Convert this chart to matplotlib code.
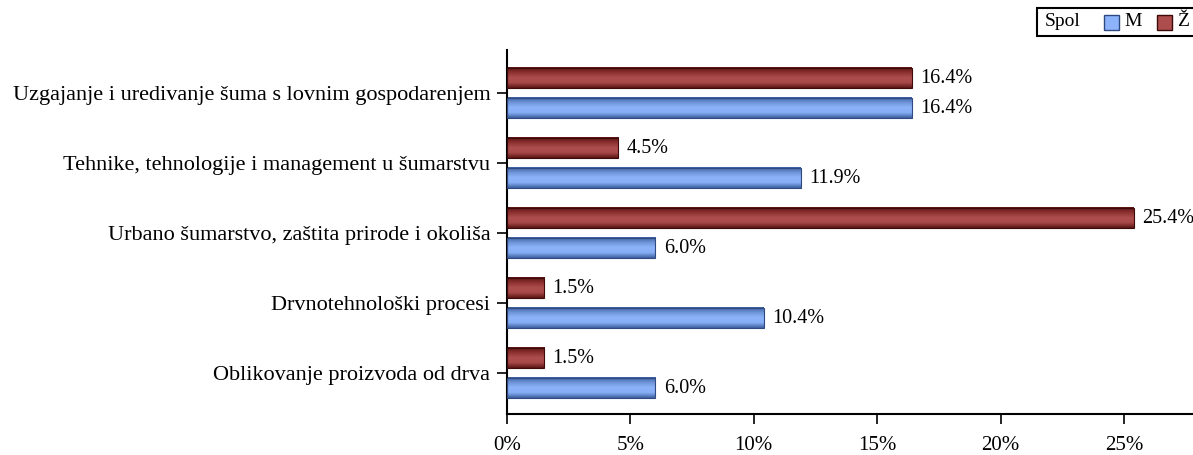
import numpy as np
import matplotlib
matplotlib.use("Agg")
import matplotlib.pyplot as plt
from matplotlib.colors import LinearSegmentedColormap
from matplotlib.patches import Rectangle

plt.rcParams['font.family'] = ['Liberation Serif', 'DejaVu Serif']

# data (bottom to top)
categories = ["Oblikovanje proizvoda od drva",
              "Drvnotehnološki procesi",
              "Urbano šumarstvo, zaštita prirode i okoliša",
              "Tehnike, tehnologije i management u šumarstvu",
              "Uzgajanje i uredivanje šuma s lovnim gospodarenjem"]
m_values = [6.0, 10.4, 6.0, 11.9, 16.4]
z_values = [1.5, 1.5, 25.4, 4.5, 16.4]
series_names = ["M", "Ž"]

blue_cmap = LinearSegmentedColormap.from_list("b", ["#3d5f9e", "#86aef5", "#8db4fa", "#6f94d8", "#3d5f9e"])
red_cmap = LinearSegmentedColormap.from_list("r", ["#5a1515", "#a84848", "#ad4d4d", "#8c3030", "#5a1515"])

fig = plt.figure(figsize=(11.93, 4.55), dpi=100)
ax = fig.add_axes([0.425, 0.09, 0.575, 0.80])

y = np.arange(len(categories))
h = 0.29
off = 0.214

def gradient_bars(vals, ypos, cmap, edge):
    bars = ax.barh(ypos, vals, height=h, facecolor='none', edgecolor=edge, linewidth=0.8, zorder=3)
    grad = np.linspace(0, 1, 64).reshape(-1, 1)
    for b in bars:
        x0, y0, w, hh = b.get_x(), b.get_y(), b.get_width(), b.get_height()
        ax.imshow(grad, cmap=cmap, extent=(x0, x0 + w, y0, y0 + hh), aspect='auto',
                  origin='lower', zorder=2, interpolation='bilinear')
    for v, yy in zip(vals, ypos):
        ax.text(v + 0.35, yy, f"{v:.1f}%", va='center', ha='left', fontsize=14.5, zorder=4)
    return bars

gradient_bars(m_values, y - off, blue_cmap, "#2e4a80")
gradient_bars(z_values, y + off, red_cmap, "#3d0a0a")

ax.set_xlim(0, 27.8)
ax.set_ylim(-0.586, 4.614)
ax.set_yticks(y)
ax.set_yticklabels(categories, fontsize=16)
ax.set_xticks([0, 5, 10, 15, 20, 25])
ax.set_xticklabels(["0%", "5%", "10%", "15%", "20%", "25%"], fontsize=15)
ax.tick_params(axis='both', direction='out', length=7, width=1.2, color='black')
ax.tick_params(axis='x', pad=9)
ax.tick_params(axis='y', pad=5)
for s in ['top', 'right']:
    ax.spines[s].set_visible(False)
for s in ['left', 'bottom']:
    ax.spines[s].set_linewidth(1.5)

# legend drawn by hand
fig.patches.append(Rectangle((1037 / 1193, 1 - 36 / 455), 160 / 1193, 28 / 455,
                             transform=fig.transFigure, facecolor='white', edgecolor='black', lw=1.5))
fig.text(1045 / 1193, 1 - 22 / 455, "Spol", fontsize=14, va='center', ha='left')
for i, (name, cmap, edge) in enumerate([(series_names[0], blue_cmap, "#2e4a80"),
                                         (series_names[1], red_cmap, "#3d0a0a")]):
    bx = (1104 + i * 53) / 1193
    fig.patches.append(Rectangle((bx, 1 - 30 / 455), 15 / 1193, 15 / 455, transform=fig.transFigure,
                                 facecolor=cmap(0.5), edgecolor=edge, lw=1))
    fig.text(bx + 20 / 1193, 1 - 22 / 455, name, fontsize=14, va='center', ha='left')

fig.savefig("out.png", dpi=100)
